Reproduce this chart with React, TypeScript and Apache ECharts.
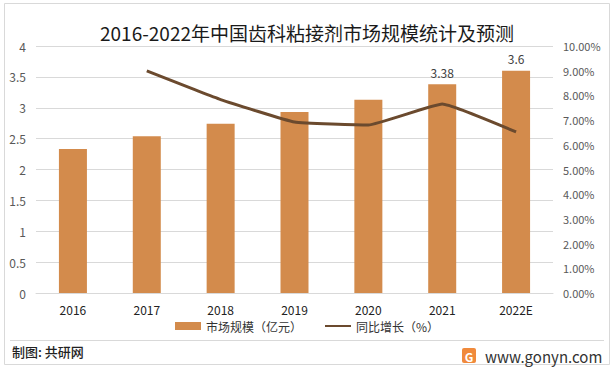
import React, { useEffect, useRef } from "react";
import * as echarts from "echarts";

const categories = ["2016", "2017", "2018", "2019", "2020", "2021", "2022E"];
const marketSize = [2.33, 2.54, 2.74, 2.93, 3.13, 3.38, 3.6];
const growthRate = [null, 8.99, 7.83, 6.92, 6.8, 7.65, 6.52];
const labeledIdx = [5, 6];
const leftTicks = { min: 0, max: 4, interval: 0.5 };
const rightTicks = { min: 0, max: 10, interval: 1 };

const FONT = "'Noto Sans CJK SC', 'Noto Sans', sans-serif";

export default function App() {
  const ref = useRef<HTMLDivElement>(null);
  useEffect(() => {
    if (!ref.current) return;
    const chart = echarts.init(ref.current, null, { renderer: "svg" });
    chart.setOption({
      animation: false,
      backgroundColor: "#fff",
      textStyle: { fontFamily: FONT },
      title: {
        text: "2016-2022年中国齿科粘接剂市场规模统计及预测",
        left: "center",
        top: 18,
        textStyle: { fontSize: 19, fontWeight: "normal", color: "#1a1a1a", fontFamily: FONT },
      },
      grid: { left: 36, right: 61, top: 46, bottom: 77, containLabel: false, outerBoundsMode: "none" },
      legend: {
        bottom: 33,
        left: "center",
        itemGap: 22,
        itemWidth: 26,
        itemHeight: 8,
        textStyle: { fontSize: 12, color: "#333", fontFamily: FONT },
        data: [
          { name: "市场规模（亿元）", icon: "rect" },
          { name: "同比增长（%）", itemStyle: { opacity: 0 } },
        ],
      },
      xAxis: {
        type: "category",
        data: categories,
        axisLine: { show: true, lineStyle: { color: "#d9d9d9" } },
        axisTick: { show: false },
        axisLabel: { fontSize: 12, color: "#222", margin: 10 },
      },
      yAxis: [
        {
          type: "value",
          ...leftTicks,
          axisLine: { show: false },
          axisTick: { show: false },
          splitLine: { lineStyle: { color: "#d9d9d9" } },
          axisLabel: { fontSize: 12, color: "#595959", margin: 10 },
        },
        {
          type: "value",
          ...rightTicks,
          position: "right",
          axisLine: { show: false },
          axisTick: { show: false },
          splitLine: { show: false },
          axisLabel: {
            fontSize: 11,
            color: "#595959",
            margin: 10,
            formatter: (v: number) => v.toFixed(2) + "%",
          },
        },
      ],
      series: [
        {
          name: "市场规模（亿元）",
          type: "bar",
          data: marketSize.map((v, i) => ({
            value: v,
            label: {
              show: labeledIdx.includes(i),
              position: "top",
              distance: 6,
              fontSize: 12,
              color: "#404040",
            },
          })),
          barWidth: 28,
          itemStyle: { color: "#D38B4C" },
        },
        {
          name: "同比增长（%）",
          type: "line",
          yAxisIndex: 1,
          data: growthRate,
          smooth: 0.1,
          showSymbol: false,
          symbol: "none",
          lineStyle: { color: "#6B4A2E", width: 3 },
          itemStyle: { color: "#6B4A2E" },
        },
      ],
      graphic: [
        {
          type: "rect",
          shape: { x: 4.5, y: 3.5, width: 605, height: 361 },
          style: { fill: "none", stroke: "#d9d9d9", lineWidth: 1 },
          silent: true,
          z: -1,
        },
        {
          type: "line",
          shape: { x1: 10, y1: 340.5, x2: 604, y2: 340.5 },
          style: { stroke: "#d9d9d9", lineWidth: 1 },
        },
        {
          type: "text",
          left: 12,
          top: 345,
          style: { text: "制图: 共研网", fontSize: 13, fontWeight: 500, fill: "#222", fontFamily: FONT },
        },
        {
          type: "rect",
          shape: { x: 462, y: 348, width: 14, height: 15, r: 2 },
          style: { fill: "#F08A3C" },
        },
        {
          type: "text",
          x: 469,
          y: 356,
          style: {
            text: "G",
            fontSize: 12,
            fontWeight: "bold",
            fill: "#fff",
            align: "center",
            verticalAlign: "middle",
            fontFamily: FONT,
          },
        },
        {
          type: "text",
          x: 485,
          y: 356,
          style: {
            text: "www.gonyn.com",
            fontSize: 15,
            fill: "#333",
            verticalAlign: "middle",
            fontFamily: FONT,
          },
        },
      ],
    });
    return () => chart.dispose();
  }, []);
  return (
    <div style={{ position: "fixed", left: 0, top: 0, width: 614, height: 370 }}>
      <div ref={ref} style={{ width: 614, height: 370 }} />
    </div>
  );
}
